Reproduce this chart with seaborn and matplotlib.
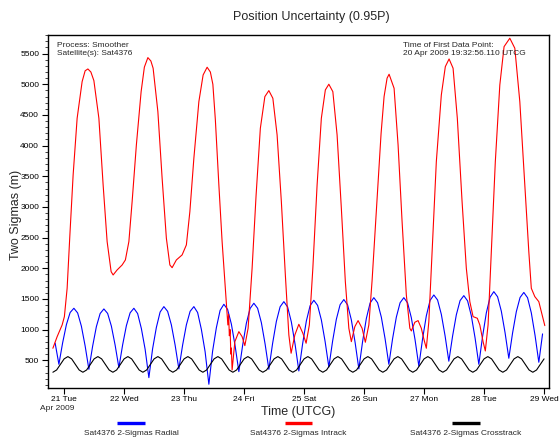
import seaborn as sns
import matplotlib.pyplot as plt
import matplotlib.dates as mdates
from matplotlib.lines import Line2D
from matplotlib.ticker import MultipleLocator
import pandas as pd
import numpy as np

# first data point of the report
t0 = pd.Timestamp('2009-04-20 19:32:56.110')

# Intrack: hours after first point -> 2-sigma (m)
intrack_hours = [
    0, 1.7, 3.7, 4.6, 5.7, 6.8, 8.1, 9.7, 11.7, 12.9, 14.0, 15.2, 16.4, 18.4, 20.1,
    21.7, 23.3, 24.1, 25.7, 27.7, 29.0, 30.4, 31.7, 33.4, 35.3, 36.6, 38.0, 39.2,
    40.1, 42.0, 43.7, 45.4, 46.8, 47.7, 49.4, 51.7, 53.4, 54.8, 56.4, 58.4, 60.1,
    61.7, 63.0, 64.0, 65.0, 66.4, 67.7, 69.0, 70.0, 70.3, 70.6, 70.9, 71.2, 71.4,
    71.7, 72.8, 74.4, 75.7, 76.8, 78.1, 79.7, 81.3, 83.0, 84.8, 86.4, 88.0, 89.7,
    91.4, 93.0, 94.4, 95.3, 96.8, 98.4, 100.0, 101.3, 102.6, 104.0, 105.7, 107.4,
    109.0, 110.4, 112.0, 113.7, 115.4, 117.0, 118.4, 119.4, 120.8, 122.1, 123.7,
    125.0, 126.4, 127.7, 128.9, 130.1, 131.3, 132.5, 133.7, 134.5, 136.5, 138.1,
    139.7, 141.4, 142.8, 143.4, 144.8, 146.1, 147.4, 148.5, 149.4, 150.4, 151.7,
    153.4, 155.4, 157.0, 158.5, 160.1, 161.8, 163.7, 165.4, 166.8, 168.1, 169.8,
    170.8, 172.1, 173.0, 174.1, 175.4, 177.0, 178.8, 180.5, 182.8, 184.8, 186.8,
    188.8, 190.4, 191.4, 192.8, 194.4, 195.4, 196.8,
]
intrack_vals = [
    696, 885, 1076, 1212, 1674, 2544, 3522, 4446, 5044, 5220, 5250, 5200, 5060, 4446, 3359,
    2435, 1945, 1891, 1973, 2054, 2136, 2435, 3087, 4011, 4880, 5280, 5435, 5380,
    5262, 4554, 3468, 2490, 2054, 2010, 2136, 2218, 2381, 2924, 3794, 4717, 5152,
    5278, 5200, 5000, 4420, 3359, 2435, 1674, 1076, 1250, 900, 1000, 600, 700,
    342, 804, 967, 885, 739, 1022, 2001, 3196, 4283, 4799, 4897, 4772, 4174,
    3087, 1891, 913, 615, 913, 1087, 941, 778, 1076, 2001, 3359, 4446,
    4908, 5001, 4880, 4174, 2979, 1782, 1022, 804, 1049, 1147, 1022,
    794, 1076, 1800, 2600, 3400, 4200, 4800, 5100, 5164, 4935, 4011,
    2761, 1565, 1022, 978, 1120, 1147, 1022, 831, 696, 1130, 2271,
    3739, 4826, 5288, 5413, 5262, 4446, 3087, 2001, 1456, 1212, 1185,
    1076, 804, 652, 1076, 2271, 3739, 4989, 5614, 5751, 5588, 4717,
    3359, 2271, 1674, 1538, 1456, 1293, 1065,
]

# Radial: one reading every 1.5 h, starting 0.9 h after the first point
radial_start, radial_step = 0.9, 1.5
radial_vals = [
    780,
    435, 785, 1080, 1279, 1348, 1272, 1056, 734,
    353, 730, 1049, 1262, 1337, 1264, 1057, 747,
    380, 751, 1064, 1274, 1348, 1262, 1017, 680,
    217, 690, 1036, 1287, 1375, 1298, 1077, 748,
    359, 748, 1077, 1298, 1375, 1279, 1004, 640,
    109, 650, 1031, 1314, 1413, 1330, 1091, 736,
    315, 742, 1103, 1345, 1430, 1348, 1114, 765,
    353, 775, 1133, 1372, 1456, 1370, 1125, 759,
    326, 767, 1140, 1390, 1478, 1395, 1159, 807,
    390, 811, 1168, 1406, 1490, 1404, 1159, 793,
    360, 805, 1181, 1433, 1521, 1438, 1203, 851,
    435, 851, 1203, 1438, 1521, 1436, 1194, 832,
    405, 849, 1225, 1477, 1565, 1483, 1249, 899,
    485, 894, 1241, 1473, 1554, 1469, 1226, 864,
    435, 888, 1272, 1529, 1619, 1536, 1301, 949,
    533, 944, 1292, 1524, 1606, 1520, 1273, 904,
    468, 930,
]

# Crosstrack: one reading every 1.5 h from the first point
cross_start, cross_step = 0.0, 1.5
crosstrack_vals = [
    305, 342, 432, 523, 560, 523, 432, 342,
    305, 342, 432, 523, 560, 523, 432, 342,
    305, 342, 432, 523, 560, 523, 432, 342,
    305, 342, 432, 523, 560, 523, 432, 342,
    305, 342, 432, 523, 560, 523, 432, 342,
    305, 342, 432, 523, 560, 523, 432, 342,
    305, 342, 432, 523, 560, 523, 432, 342,
    305, 342, 432, 523, 560, 523, 432, 342,
    305, 342, 432, 523, 560, 523, 432, 342,
    305, 342, 432, 523, 560, 523, 432, 342,
    305, 342, 432, 523, 560, 523, 432, 342,
    305, 342, 432, 523, 560, 523, 432, 342,
    305, 342, 432, 523, 560, 523, 432, 342,
    305, 342, 432, 523, 560, 523, 432, 342,
    305, 342, 432, 523, 560, 523, 432, 342,
    305, 342, 432, 523, 560, 523, 432, 342,
    305, 342, 432, 523,
]

series_names = ['Sat4376 2-Sigmas Radial', 'Sat4376 2-Sigmas Intrack',
                'Sat4376 2-Sigmas Crosstrack']
series_colors = ['#0000ff', '#ff0000', '#000000']


def hours_to_time(h):
    return t0 + pd.to_timedelta(np.asarray(h, dtype=float), unit='h')


radial_h = radial_start + radial_step * np.arange(len(radial_vals))
cross_h = cross_start + cross_step * np.arange(len(crosstrack_vals))

df = pd.concat([
    pd.DataFrame({'Time': hours_to_time(radial_h), 'Sigma': radial_vals,
                  'Series': series_names[0]}),
    pd.DataFrame({'Time': hours_to_time(intrack_hours), 'Sigma': intrack_vals,
                  'Series': series_names[1]}),
    pd.DataFrame({'Time': hours_to_time(cross_h), 'Sigma': crosstrack_vals,
                  'Series': series_names[2]}),
], ignore_index=True)

sns.set_style('ticks')
plt.rcParams['font.family'] = ['Liberation Sans', 'DejaVu Sans']

fig = plt.figure(figsize=(5.59, 4.42), dpi=100)
ax = fig.add_axes([0.085, 0.123, 0.897, 0.798])

sns.lineplot(data=df, x='Time', y='Sigma', hue='Series', hue_order=series_names,
             palette=dict(zip(series_names, series_colors)), estimator=None,
             sort=False, linewidth=0.8, legend=False, ax=ax)

ax.set_xlim(pd.Timestamp('2009-04-20 17:24'), pd.Timestamp('2009-04-29 02:00'))
ax.set_ylim(54, 5805)

ax.xaxis.set_major_locator(mdates.DayLocator())
ax.xaxis.set_major_formatter(mdates.DateFormatter('%d %a'))
ax.yaxis.set_major_locator(MultipleLocator(500))
ax.yaxis.set_minor_locator(MultipleLocator(100))
ax.tick_params(which='major', labelsize=6, length=4, width=0.8, direction='out',
               colors='black', pad=2)
ax.tick_params(which='minor', length=2.5, width=0.6, direction='out')
ax.tick_params(top=False, right=False)
for sp in ax.spines.values():
    sp.set_visible(True)
    sp.set_color('black')
    sp.set_linewidth(1.0)

ax.annotate('Apr 2009', xy=(mdates.date2num(pd.Timestamp('2009-04-21')), 0),
            xycoords=('data', 'axes fraction'), xytext=(-5, -15.3),
            textcoords='offset points', ha='center', va='center', fontsize=6)

ax.set_xlabel('Time (UTCG)', fontsize=9)
ax.xaxis.set_label_coords(0.5, -0.068)
ax.xaxis.label.set_va('center')
ax.set_ylabel('Two Sigmas (m)', fontsize=9)
ax.yaxis.set_label_coords(-0.063, 0.49)
ax.yaxis.label.set_va('center')

fig.text(311 / 559, 1 - 17 / 442, 'Position Uncertainty (0.95P)', ha='center',
         va='center', fontsize=9)

ax.text(0.019, 0.979, 'Process: Smoother\nSatellite(s): Sat4376',
        transform=ax.transAxes, ha='left', va='top', fontsize=6)
ax.text(0.7095, 0.979, 'Time of First Data Point:\n20 Apr 2009 19:32:56.110 UTCG',
        transform=ax.transAxes, ha='left', va='top', fontsize=6)

# legend: colour bar above each label, spread across the bottom
for cx, name, col in zip([131, 298.5, 466], series_names, series_colors):
    fig.add_artist(Line2D([(cx - 13.75) / 559, (cx + 13.75) / 559], [0.0423, 0.0423],
                          transform=fig.transFigure, color=col, linewidth=2.4,
                          solid_capstyle='butt'))
    fig.text(cx / 559, 1 - 433.3 / 442, name, ha='center', va='center', fontsize=6)

fig.savefig('out.png', dpi=100)
